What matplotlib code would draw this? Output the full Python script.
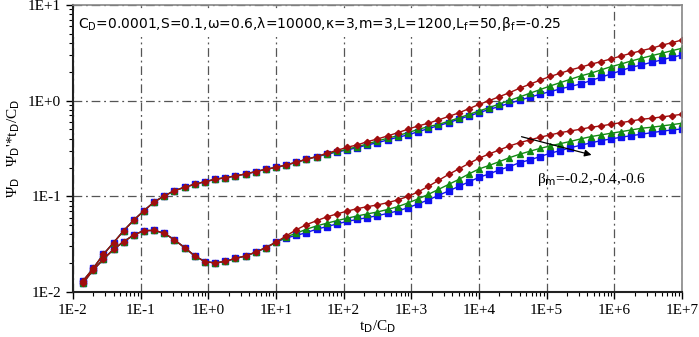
import matplotlib
matplotlib.use('Agg')
import matplotlib.pyplot as plt
from matplotlib.ticker import LogLocator, FuncFormatter, NullFormatter
import numpy as np

# dimensionless time t_D/C_D
td = [0.01413, 0.01995, 0.02818, 0.03981, 0.05623, 0.07943, 0.1122, 0.1585, 0.2239, 0.3162,
      0.4467, 0.6310, 0.8913, 1.259, 1.778, 2.512, 3.548, 5.012, 7.079, 10.0,
      14.13, 19.95, 28.18, 39.81, 56.23, 79.43, 112.2, 158.5, 223.9, 316.2,
      446.7, 631.0, 891.3, 1259, 1778, 2512, 3548, 5012, 7079, 10000,
      1.413e4, 1.995e4, 2.818e4, 3.981e4, 5.623e4, 7.943e4, 1.122e5, 1.585e5, 2.239e5, 3.162e5,
      4.467e5, 6.310e5, 8.913e5, 1.259e6, 1.778e6, 2.512e6, 3.548e6, 5.012e6, 7.079e6, 1.0e7]

# pressure, part shared by all three cases (first 24 points)
p_common = [0.0131, 0.0177, 0.0248, 0.0328, 0.0438, 0.0566, 0.0709, 0.0874, 0.101, 0.1147,
            0.1245, 0.1338, 0.1424, 0.1505, 0.1568, 0.1633, 0.1714, 0.1812, 0.1919, 0.2005,
            0.2129, 0.2272, 0.2441, 0.2600]
p_red = [0.2821, 0.3017, 0.3259, 0.3444, 0.3729, 0.3980, 0.4278, 0.4629, 0.5026, 0.5440,
         0.5804, 0.6285, 0.6837, 0.7439, 0.8249, 0.9126, 1.000, 1.101, 1.212, 1.348,
         1.484, 1.634, 1.790, 1.933, 2.094, 2.234, 2.401, 2.556, 2.728, 2.932,
         3.129, 3.331, 3.528, 3.793, 4.037, 4.308]
p_green = [0.2773, 0.2945, 0.3105, 0.3306, 0.3528, 0.3793, 0.4047, 0.4309, 0.4629, 0.5002,
           0.5351, 0.5642, 0.6091, 0.6596, 0.7175, 0.7805, 0.8451, 0.9237, 1.005, 1.093,
           1.195, 1.303, 1.424, 1.542, 1.673, 1.812, 1.933, 2.094, 2.266, 2.418,
           2.599, 2.774, 2.953, 3.129, 3.331, 3.528]
p_blue = [0.2740, 0.2910, 0.3053, 0.3228, 0.3444, 0.3640, 0.3885, 0.4146, 0.4382, 0.4744,
          0.5098, 0.5480, 0.5890, 0.6391, 0.6922, 0.7492, 0.8092, 0.8698, 0.9393, 1.010,
          1.085, 1.166, 1.242, 1.325, 1.407, 1.495, 1.618, 1.756, 1.901, 2.059,
          2.234, 2.360, 2.519, 2.663, 2.841, 3.003]

# derivative, shared part (first 20 points)
d_common = [0.01245, 0.01702, 0.02203, 0.02800, 0.03363, 0.03953, 0.04385, 0.0440, 0.04115, 0.03503,
            0.02911, 0.02383, 0.02078, 0.02014, 0.02088, 0.02245, 0.02383, 0.02606, 0.02911, 0.03314]
d_red = [0.03857, 0.04477, 0.05061, 0.05559, 0.06091, 0.06549, 0.07003, 0.07437, 0.07803, 0.08128,
         0.08594, 0.09171, 0.09977, 0.1112, 0.1269, 0.1466, 0.1694, 0.1933, 0.2207, 0.2501,
         0.2773, 0.3053, 0.3362, 0.3640, 0.3885, 0.4146, 0.4382, 0.4629, 0.4826, 0.5026,
         0.5273, 0.5440, 0.5669, 0.5890, 0.6136, 0.6391, 0.6549, 0.6757, 0.6971, 0.7210]
d_green = [0.03765, 0.04115, 0.04531, 0.04906, 0.05235, 0.05571, 0.05902, 0.06240, 0.06549, 0.06871,
           0.07294, 0.07803, 0.08531, 0.09393, 0.1047, 0.1180, 0.1331, 0.1501, 0.1714, 0.1933,
           0.2103, 0.2305, 0.2537, 0.2754, 0.2959, 0.3166, 0.3362, 0.3554, 0.3747, 0.3980,
           0.4205, 0.4382, 0.4565, 0.4744, 0.4941, 0.5149, 0.5273, 0.5440, 0.5614, 0.5804]
d_blue = [0.03675, 0.03903, 0.04176, 0.04531, 0.04824, 0.05148, 0.05465, 0.05735, 0.05990, 0.06285,
          0.06628, 0.07037, 0.07600, 0.08328, 0.09171, 0.1022, 0.1138, 0.1269, 0.1414, 0.1583,
          0.1714, 0.1887, 0.2043, 0.2250, 0.2401, 0.2600, 0.2821, 0.3002, 0.3220, 0.3420,
          0.3614, 0.3819, 0.3980, 0.4146, 0.4309, 0.4456, 0.4629, 0.4790, 0.4941, 0.5061]

params = 'C$_{\\rm D}$=0.0001,S=0.1,\u03c9=0.6,\u03bb=10000,\u03ba=3,m=3,L=1200,L$_{\\rm f}$=50,\u03b2$_{\\rm f}$=-0.25'
beta_m_label = '\u03b2$_{\\rm m}$=-0.2,-0.4,-0.6'

plt.rcParams['mathtext.fontset'] = 'custom'
plt.rcParams['mathtext.rm'] = 'DejaVu Sans'

fig = plt.figure(figsize=(6.99, 3.37), dpi=100)
ax = fig.add_axes([0.1044, 0.1335, 0.8713, 0.8517])

series = [
    (p_blue, d_blue, '#1010f0', 's', 5.0),
    (p_green, d_green, '#128a12', '^', 5.0),
    (p_red, d_red, '#a00d0d', 'D', 3.2),
]
for p_tail, d_tail, col, mk, ms in series:
    p = p_common + p_tail
    d = d_common + d_tail
    for y in (p, d):
        ax.plot(td, y, color=col, lw=1.0, marker=mk, ms=ms, mec=col, mfc=col)

ax.set_xscale('log')
ax.set_yscale('log')
ax.set_xlim(1e-2, 1e7)
ax.set_ylim(1e-2, 1e1)

fmt = FuncFormatter(lambda v, pos: '1E%+d' % int(round(np.log10(v))))
ax.xaxis.set_major_locator(LogLocator(base=10, numticks=20))
ax.yaxis.set_major_locator(LogLocator(base=10, numticks=20))
ax.xaxis.set_minor_locator(LogLocator(base=10, subs=np.arange(2, 10), numticks=20))
ax.yaxis.set_minor_locator(LogLocator(base=10, subs=np.arange(2, 10), numticks=20))
ax.xaxis.set_major_formatter(fmt)
ax.yaxis.set_major_formatter(fmt)
ax.xaxis.set_minor_formatter(NullFormatter())
ax.yaxis.set_minor_formatter(NullFormatter())

serif = 'Liberation Serif'
for lab in ax.get_xticklabels() + ax.get_yticklabels():
    lab.set_fontfamily(serif)
    lab.set_fontsize(11)
ax.tick_params(which='major', direction='out', length=5, width=1)
ax.tick_params(which='minor', direction='out', length=3, width=0.8)

ax.grid(True, which='major', color='#555555', ls=(0, (7, 3, 1.5, 3)), lw=0.9)
for s in ('left', 'bottom'):
    ax.spines[s].set_linewidth(1.5)
    ax.spines[s].set_color('#222222')
for s in ('top', 'right'):
    ax.spines[s].set_color('#888888')
    ax.spines[s].set_linewidth(1.2)

ax.set_xlabel('t$_{\\rm D}$/C$_{\\rm D}$', fontfamily=serif, fontsize=11, labelpad=1)
ax.set_ylabel('\u03a8$_{\\rm D}$   \u03a8$_{\\rm D}$\'*t$_{\\rm D}$/C$_{\\rm D}$',
              fontfamily=serif, fontsize=11, labelpad=4)

ax.text(0.008, 0.965, params, transform=ax.transAxes, ha='left', va='top',
        fontsize=10, fontfamily='DejaVu Sans',
        bbox=dict(facecolor='white', edgecolor='none', pad=3))

ax.annotate('', xy=(4.6e5, 0.271), xytext=(4.25e4, 0.42),
            arrowprops=dict(arrowstyle='-|>', color='black', lw=0.9, mutation_scale=10,
                            shrinkA=0, shrinkB=0))
ax.text(7.1e4, 0.15, beta_m_label, fontfamily=serif, fontsize=11, ha='left', va='center')

fig.savefig('out.png', dpi=100)
